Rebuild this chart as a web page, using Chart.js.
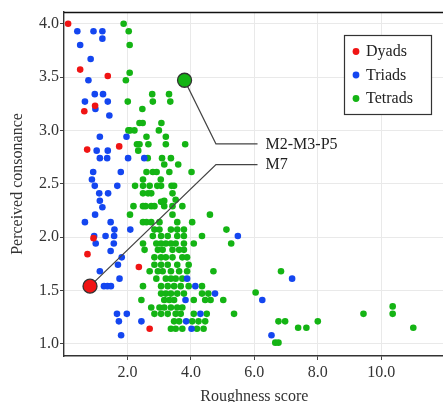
<!DOCTYPE html>
<html>
<head>
<meta charset="utf-8">
<script src="https://cdn.jsdelivr.net/npm/chart.js@4.4.1/dist/chart.umd.min.js"></script>
<style>
html,body{margin:0;padding:0;overflow:hidden;background:#fff;width:443px;height:402px;}
canvas{display:block;}
</style>
</head>
<body>
<canvas id="c" width="453" height="406"></canvas>
<script>
// ---------- data ----------
const seriesNames = ['Dyads', 'Triads', 'Tetrads'];

const dyads = [
  [0.13,4.00],[0.51,3.57],[1.38,3.51],[0.98,3.23],[0.64,3.18],[0.73,2.82],[1.74,2.85],
  [0.93,1.99],[0.74,1.84],[2.36,1.72],[2.70,1.14]
];

const triads = [
  [0.42,3.93],[0.93,3.93],[1.21,3.93],[1.21,3.86],[0.51,3.80],[0.84,3.67],[0.77,3.47],
  [0.97,3.34],[1.23,3.34],[0.66,3.27],[1.38,3.27],[0.99,3.20],[1.43,3.14],
  [1.13,2.94],[1.97,2.94],[1.03,2.81],[1.38,2.81],[1.13,2.74],[1.36,2.74],[2.02,2.74],[2.53,2.74],
  [0.92,2.61],[1.79,2.61],[0.88,2.54],[0.97,2.48],[1.68,2.48],[1.11,2.41],[1.39,2.41],
  [1.13,2.34],[1.21,2.28],[0.98,2.21],[0.66,2.14],[1.47,2.14],[1.59,2.07],[2.09,2.07],
  [0.95,2.01],[1.31,2.01],[1.58,2.01],[1.00,1.94],[1.57,1.94],[1.47,1.87],[1.82,1.81],
  [1.70,1.74],[1.13,1.68],[1.75,1.61],[1.26,1.54],[1.37,1.54],[1.48,1.54],
  [1.67,1.28],[1.98,1.28],[1.73,1.21],[1.80,1.08],[2.44,1.21],
  [3.88,1.61],[4.14,1.54],[4.76,1.47],[3.83,1.41],[4.30,1.28],[3.85,1.21],[4.02,1.14],
  [5.48,2.01],[7.19,1.61],[6.25,1.41],[6.54,1.08]
];

const tetrads = [
  [1.88,4.00],[2.04,3.93],[2.07,3.80],[2.07,3.54],[1.95,3.47],[2.01,3.27],
  [2.78,3.34],[3.31,3.34],[2.80,3.27],[3.35,3.27],[2.47,3.20],
  [2.38,3.07],[2.48,3.07],[3.07,3.07],
  [2.03,3.00],[2.08,3.00],[2.22,3.00],[2.99,3.00],
  [2.60,2.94],[3.21,2.94],
  [2.30,2.87],[2.38,2.87],[2.66,2.87],[3.21,2.87],[3.82,2.87],
  [2.34,2.81],
  [2.64,2.74],[3.09,2.74],[3.37,2.74],
  [3.16,2.68],[3.60,2.68],
  [2.60,2.61],[2.80,2.61],[2.92,2.61],[3.32,2.61],[4.02,2.61],
  [2.49,2.54],[3.05,2.54],
  [2.24,2.48],[2.49,2.48],[2.70,2.48],[2.94,2.48],[3.06,2.48],[3.39,2.48],[3.47,2.48],
  [2.49,2.41],[2.65,2.41],[2.75,2.41],[3.42,2.41],
  [3.52,2.35],[3.16,2.34],[3.06,2.33],
  [2.19,2.29],[2.49,2.29],[2.57,2.29],[2.75,2.29],[2.85,2.29],[3.16,2.29],[3.42,2.29],[3.73,2.29],
  [2.08,2.21],[3.42,2.21],[4.60,2.21],
  [2.49,2.14],[2.60,2.14],[2.75,2.14],[3.01,2.14],[3.57,2.14],[4.04,2.14],
  [2.85,2.07],[3.01,2.07],[3.37,2.07],[3.57,2.07],[3.78,2.07],[5.12,2.07],
  [2.80,2.01],[3.06,2.01],[3.27,2.01],[3.57,2.01],[3.78,2.01],[4.35,2.01],
  [2.49,1.94],[2.91,1.94],[3.06,1.94],[3.21,1.94],[3.37,1.94],[3.52,1.94],[3.78,1.94],[4.09,1.94],[5.27,1.94],
  [2.54,1.88],[2.96,1.88],[3.11,1.88],[3.42,1.88],[3.63,1.88],[3.78,1.88],
  [2.85,1.81],[3.06,1.81],[3.21,1.81],[3.42,1.81],[3.73,1.81],[3.88,1.81],
  [2.85,1.74],[3.06,1.74],[3.27,1.74],[3.57,1.74],[3.93,1.74],
  [2.70,1.68],[2.96,1.68],[3.11,1.68],[3.37,1.68],[3.63,1.68],[3.88,1.68],[4.71,1.68],[6.84,1.68],
  [2.91,1.61],[3.21,1.61],[3.37,1.61],[3.52,1.61],[3.73,1.61],
  [2.49,1.54],[3.06,1.54],[3.27,1.54],[3.47,1.54],[3.68,1.54],[3.93,1.54],[4.35,1.54],
  [3.06,1.47],[3.21,1.47],[3.37,1.47],[3.57,1.47],[3.78,1.47],[4.35,1.47],[4.55,1.47],[6.04,1.48],
  [2.44,1.41],[3.16,1.41],[3.32,1.41],[3.47,1.41],[4.09,1.41],[4.45,1.41],[4.62,1.41],[5.02,1.41],
  [2.75,1.34],[3.01,1.34],[3.16,1.34],[3.37,1.34],[3.57,1.34],[3.73,1.34],[10.36,1.35],
  [2.85,1.28],[3.06,1.28],[3.27,1.28],[3.52,1.28],[3.68,1.28],[4.09,1.28],[4.50,1.28],[5.36,1.28],[9.44,1.28],[10.36,1.28],
  [3.47,1.21],[3.63,1.21],[4.04,1.21],[4.24,1.21],[4.45,1.21],[6.76,1.21],[6.97,1.21],[8.00,1.21],
  [3.37,1.14],[3.52,1.14],[3.73,1.14],[4.19,1.14],[4.40,1.14],[7.38,1.15],[7.64,1.15],[11.01,1.15],
  [6.66,1.01],[6.76,1.01]
];

const highlightLabels = ['M2-M3-P5', 'M7'];
const highlightPoints = [[3.80,3.47],[0.82,1.54]];

const xTicks = [2, 4, 6, 8, 10];
const yTicks = [1.0, 1.5, 2.0, 2.5, 3.0, 3.5, 4.0];

// ---------- style / layout ----------
const RED = '#f01414', BLUE = '#1446f0', GREEN = '#14b414';
const FONT = '"Liberation Serif", "Times New Roman", serif';
const callout = { elbowX: 4.79, elbowY: [2.873, 2.679], endX: 6.10 };

const toXY = arr => arr.map(p => ({x: p[0], y: p[1]}));

const calloutPlugin = {
  id: 'callouts',
  beforeDatasetDraw(chart, args) {
    if (args.index !== 3) return;
    const {ctx, scales: {x, y}} = chart;
    ctx.save();
    ctx.strokeStyle = '#444';
    ctx.lineWidth = 1.3;
    ctx.fillStyle = '#222';
    ctx.font = '16px ' + FONT;
    ctx.textBaseline = 'middle';
    highlightPoints.forEach((p, i) => {
      const px = x.getPixelForValue(p[0]), py = y.getPixelForValue(p[1]);
      const ex = x.getPixelForValue(callout.elbowX), ey = y.getPixelForValue(callout.elbowY[i]);
      const tx = x.getPixelForValue(callout.endX);
      ctx.beginPath();
      ctx.moveTo(px, py); ctx.lineTo(ex, ey); ctx.lineTo(tx, ey);
      ctx.stroke();
      ctx.fillText(highlightLabels[i], tx + 8, ey + 0.5);
    });
    ctx.restore();
  }
};

const framePlugin = {
  id: 'frame',
  afterDraw(chart) {
    const {ctx, chartArea: a} = chart;
    ctx.save();
    ctx.strokeStyle = '#111';
    ctx.lineWidth = 1.3;
    ctx.beginPath();
    ctx.moveTo(a.left, a.top + 0.5);
    ctx.lineTo(a.right, a.top + 0.5);
    ctx.stroke();
    // legend
    const bx = 344, by = 35, bw = 87, bh = 79;
    ctx.fillStyle = '#fff';
    ctx.fillRect(bx, by, bw, bh);
    ctx.strokeStyle = '#333';
    ctx.lineWidth = 1.2;
    ctx.strokeRect(bx + 0.5, by + 0.5, bw, bh);
    const cols = [RED, BLUE, GREEN];
    ctx.font = '16px ' + FONT;
    ctx.textBaseline = 'middle';
    seriesNames.forEach((n, i) => {
      const cy = 51.5 + i * 23.5;
      ctx.fillStyle = cols[i];
      ctx.beginPath();
      ctx.arc(356, cy, 3.4, 0, Math.PI * 2);
      ctx.fill();
      ctx.fillStyle = '#222';
      ctx.fillText(n, 366, cy + 0.5);
    });
    ctx.restore();
  }
};

new Chart(document.getElementById('c'), {
  type: 'scatter',
  data: {
    datasets: [
      {label: seriesNames[0], data: toXY(dyads), backgroundColor: RED, borderWidth: 0, pointRadius: 3.3, order: 1},
      {label: seriesNames[1], data: toXY(triads), backgroundColor: BLUE, borderWidth: 0, pointRadius: 3.3, order: 2},
      {label: seriesNames[2], data: toXY(tetrads), backgroundColor: GREEN, borderWidth: 0, pointRadius: 3.3, order: 3},
      {label: 'highlight', data: toXY(highlightPoints), backgroundColor: [GREEN, RED], borderColor: '#333', borderWidth: 1.3, pointRadius: 7, order: 0}
    ]
  },
  options: {
    responsive: false,
    animation: false,
    devicePixelRatio: 1,
    layout: {padding: {top: 12, right: 0, left: 0, bottom: 0}},
    plugins: {legend: {display: false}, tooltip: {enabled: false}},
    scales: {
      x: {
        type: 'linear', min: 0, max: 12,
        afterBuildTicks: s => { s.ticks = xTicks.map(v => ({value: v})); },
        afterFit: s => { s.height = 50; },
        grid: {color: '#e9e9e9', tickColor: '#444', tickLength: 4, lineWidth: 1},
        border: {color: '#333', width: 1.4},
        ticks: {font: {family: FONT, size: 16}, color: '#333', padding: 3, maxRotation: 0,
                callback: v => Number(v).toFixed(1)},
        title: {display: true, text: 'Roughness score', font: {family: FONT, size: 16}, color: '#333',
                padding: {top: 0, bottom: 0}}
      },
      y: {
        type: 'linear', min: 0.885, max: 4.11,
        afterBuildTicks: s => { s.ticks = yTicks.map(v => ({value: v})); },
        afterFit: s => { s.width = 64; },
        grid: {color: '#e9e9e9', tickColor: '#444', tickLength: 4, lineWidth: 1},
        border: {color: '#333', width: 1.4},
        ticks: {font: {family: FONT, size: 16}, color: '#333', padding: 1,
                callback: v => Number(v).toFixed(1)},
        title: {display: true, text: 'Perceived consonance', font: {family: FONT, size: 16}, color: '#333',
                padding: {top: 8, bottom: 0}}
      }
    }
  },
  plugins: [calloutPlugin, framePlugin]
});
</script>
</body>
</html>
